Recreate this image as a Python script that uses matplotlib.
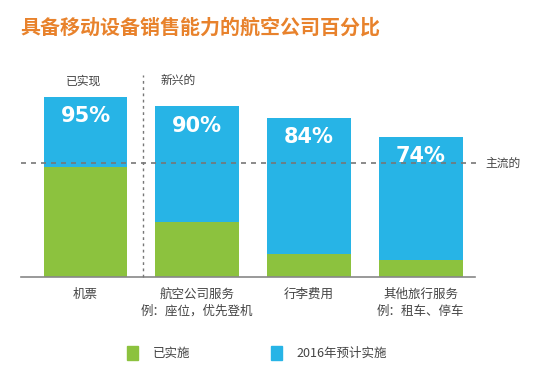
import matplotlib.pyplot as plt
from matplotlib.patches import Patch

plt.rcParams['font.family'] = ['Noto Sans CJK SC', 'DejaVu Sans']

categories = ['机票', '航空公司服务\n例：座位，优先登机', '行李费用', '其他旅行服务\n例：租车、停车']
implemented = [58, 29, 12, 9]
total_2016 = [95, 90, 84, 74]
mainstream = 60

green = '#8cc23e'
blue = '#27b4e6'

fig = plt.figure(figsize=(5.5, 3.7), dpi=100)
ax = fig.add_axes([0, 93 / 370, 1, 189.5 / 370])

x = list(range(len(categories)))
planned = [t - i for t, i in zip(total_2016, implemented)]
ax.bar(x, implemented, width=0.75, color=green)
ax.bar(x, planned, bottom=implemented, width=0.75, color=blue)

for xi, t in zip(x, total_2016):
    ax.annotate(f'{t}%', (xi, t), xytext=(0, -14), textcoords='offset points',
                ha='center', va='center', color='white', fontsize=15, fontweight='bold',
                family='DejaVu Sans')

ax.set_xlim(-0.766, 4.158)
ax.set_ylim(0, 100)
ax.axis('off')

# baseline and reference lines
ax.plot([-0.58, 3.49], [0, 0], color='#888888', lw=1.2, clip_on=False)
ax.plot([-0.58, 3.51], [mainstream, mainstream], color='#777777', lw=1.2,
        ls=(0, (3, 3)), clip_on=False)
ax.plot([0.515, 0.515], [0, 106.5], color='#777777', lw=1.0, ls=(0, (2, 2.5)), clip_on=False)

ax.text(3.58, mainstream, '主流的', ha='left', va='center', fontsize=8.5, color='#444444')
ax.text(-0.02, 103.5, '已实现', ha='center', va='center', fontsize=8.5, color='#444444')
ax.text(0.67, 103.5, '新兴的', ha='left', va='center', fontsize=8.5, color='#444444')

for xi, c in zip(x, categories):
    ax.annotate(c, (xi, 0), xytext=(0, -8), textcoords='offset points',
                ha='center', va='top', fontsize=9, color='#444444', linespacing=1.35)

fig.text(20 / 550, 1 - 27 / 370, '具备移动设备销售能力的航空公司百分比', ha='left', va='center',
         fontsize=14.4, fontweight='bold', color='#e8822c')

handles = [Patch(color=green, label='已实施'), Patch(color=blue, label='2016年预计实施')]
fig.legend(handles=handles, loc='center', bbox_to_anchor=(257 / 550, 17 / 370), ncol=2,
           frameon=False, fontsize=9, handlelength=0.9, handleheight=1.3,
           columnspacing=6.4, handletextpad=1.2, labelcolor='#444444')

fig.savefig('out.png', dpi=100)
